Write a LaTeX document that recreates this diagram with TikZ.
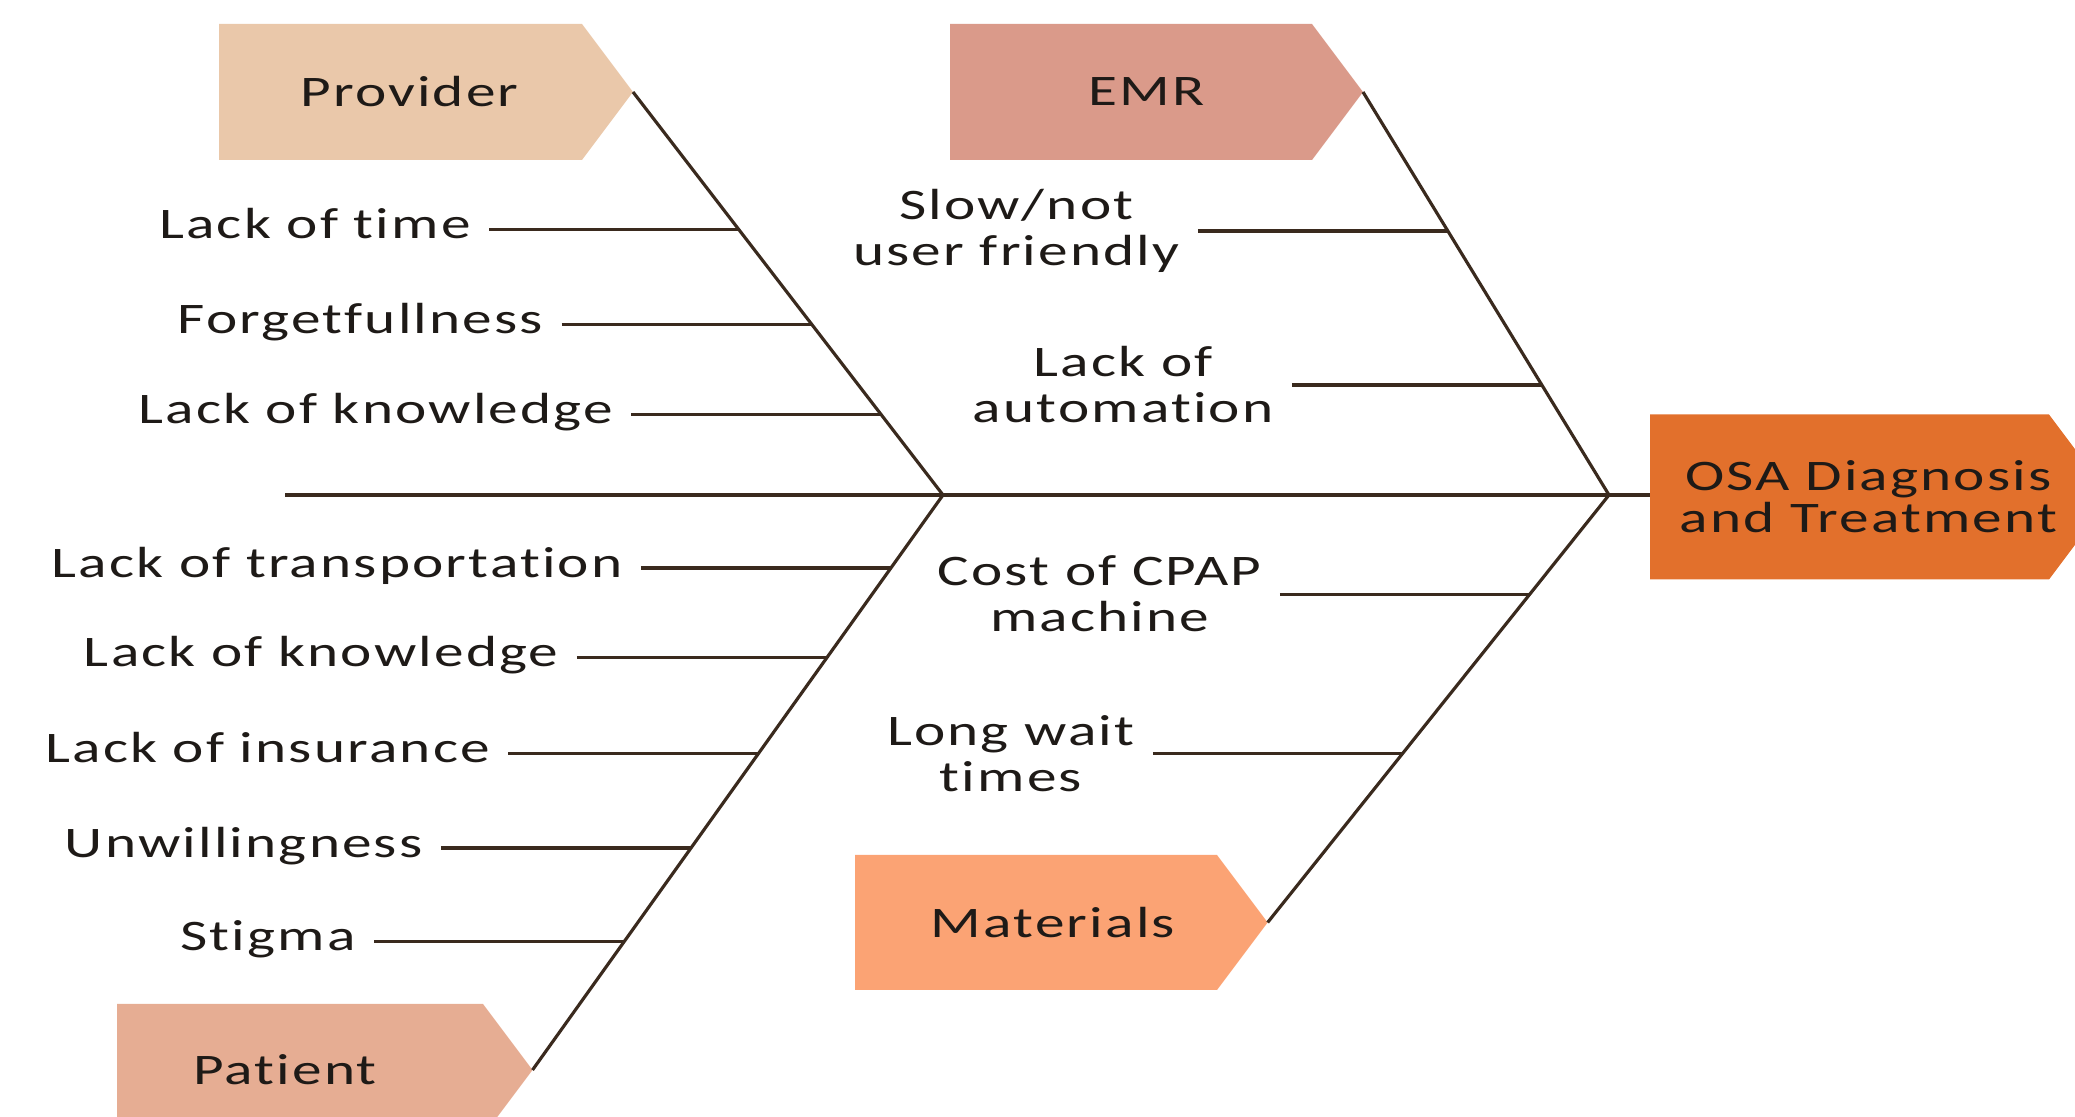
\documentclass[tikz,border=0pt]{standalone}
\usepackage{fontspec}
\setmainfont{Carlito}[FakeStretch=1.36,LetterSpace=5,Ligatures=NoCommon]
\usetikzlibrary{calc,positioning}
\definecolor{provfill}{HTML}{EAC8AA}
\definecolor{emrfill}{HTML}{DA9A8A}
\definecolor{patfill}{HTML}{E6AD93}
\definecolor{matfill}{HTML}{FBA374}
\definecolor{osafill}{HTML}{E2702C}
\definecolor{bonecol}{HTML}{3A2A1E}
\definecolor{inkcol}{HTML}{1E1A17}
\tikzset{
	bone/.style={draw=bonecol, line width=.9pt},
	cause/.style={font=\fontsize{12.4}{13.1}\selectfont, text=inkcol, inner xsep=5pt, inner ysep=0pt, text height=8pt, text depth=2.8pt},
	causetwo/.style={font=\fontsize{12.4}{13.1}\selectfont, text=inkcol, inner xsep=5pt, inner ysep=0pt, align=center},
	head/.style={font=\fontsize{12.4}{12}\selectfont, text=inkcol, align=center, inner sep=0pt}
}
\newcommand{\causeBox}[7]{
	\fill[#1] ($#3+(0,-#5)$) -- ($#3+(#4,-#5)$) -- ($#3+(#4,0)+(.75*#5,0)$) -- ($#3+(#4,#5)$) -- ($#3+(0,#5)$) -- cycle;
	\coordinate (#2) at ($#3+(#4,0)+(.75*#5,0)$);
	\coordinate (#2-w) at #3;
	\node[head] (#2-txt) at ($#3+(.5*#4,0)+(#6,0)$) {#7};
}

\begin{document}
\begin{tikzpicture}
	\useasboundingbox (0,0) rectangle (20.75,11.17);
	\clip (0,0) rectangle (20.75,11.17);
	\causeBox{provfill}{prov}{(2.19,10.25)}{3.63}{.68}{.09}{Provider}
	\causeBox{emrfill}{emr}{(9.50,10.25)}{3.62}{.68}{.16}{EMR}
	\causeBox{patfill}{pat}{(1.17,.47)}{3.66}{.66}{-.15}{Patient}
	\causeBox{matfill}{mat}{(8.55,1.945)}{3.62}{.675}{.17}{Materials}
	\causeBox{osafill}{osa}{(16.50,6.20)}{3.99}{.825}{.19}{OSA Diagnosis\\and Treatment}
	\coordinate (tail) at (2.85,6.22);
	\coordinate (M) at (9.43,6.22);
	\coordinate (J) at (16.09,6.22);
	% spine and bones
	\draw[bone] (tail) -- (tail -| osa-w);
	\draw[bone] (prov) -- (M) coordinate[pos=.342] (pv1) coordinate[pos=.576] (pv2) coordinate[pos=.801] (pv3);
	\draw[bone] (M) -- (pat) coordinate[pos=.127] (pt1) coordinate[pos=.283] (pt2) coordinate[pos=.450] (pt3) coordinate[pos=.614] (pt4) coordinate[pos=.777] (pt5);
	\draw[bone] (emr) -- (J) coordinate[pos=.345] (em1) coordinate[pos=.727] (em2);
	\draw[bone] (J) -- (mat) coordinate[pos=.232] (mt1) coordinate[pos=.604] (mt2);
	% provider causes
	\node[cause, left=2.5cm of pv1] (time) {Lack of time};
	\node[cause, left=2.5cm of pv2] (forget) {Forgetfullness};
	\node[cause, left=2.5cm of pv3] (knowprov) {Lack of knowledge};
	% patient causes
	\node[cause, left=2.5cm of pt1] (transp) {Lack of transportation};
	\node[cause, left=2.5cm of pt2] (knowpat) {Lack of knowledge};
	\node[cause, left=2.5cm of pt3] (insur) {Lack of insurance};
	\node[cause, left=2.5cm of pt4] (unwill) {Unwillingness};
	\node[cause, left=2.5cm of pt5] (stigma) {Stigma};
	% EMR and materials causes
	\node[causetwo, left=2.5cm of em1] (slow) {Slow/not\\user friendly};
	\node[causetwo, left=2.5cm of em2] (auto) {Lack of\\automation};
	\node[causetwo, left=2.5cm of mt1] (cpap) {Cost of CPAP\\machine};
	\node[causetwo, left=2.5cm of mt2] (wait) {Long wait\\times};
	\draw[bone] (time) -- (pv1);
	\draw[bone] (forget) -- (pv2);
	\draw[bone] (knowprov) -- (pv3);
	\draw[bone] (transp) -- (pt1);
	\draw[bone] (knowpat) -- (pt2);
	\draw[bone] (insur) -- (pt3);
	\draw[bone] (unwill) -- (pt4);
	\draw[bone] (stigma) -- (pt5);
	\draw[bone] (slow) -- (em1);
	\draw[bone] (auto) -- (em2);
	\draw[bone] (cpap) -- (mt1);
	\draw[bone] (wait) -- (mt2);
\end{tikzpicture}
\end{document}
